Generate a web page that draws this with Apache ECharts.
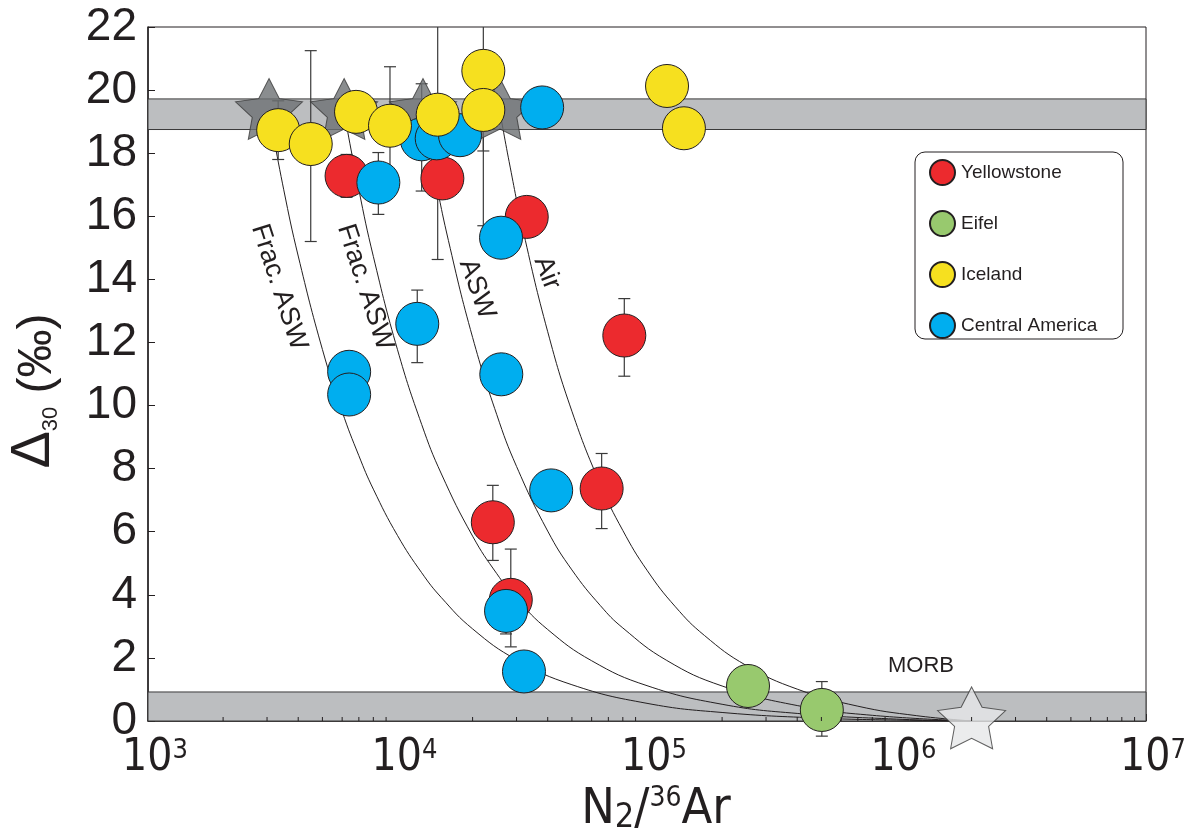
<!DOCTYPE html>
<html>
<head>
<meta charset="utf-8">
<script src="https://cdn.jsdelivr.net/npm/echarts@6/dist/echarts.min.js"></script>
<style>
html,body{margin:0;padding:0;background:#fff;}
#chart{width:1186px;height:840px;}
</style>
</head>
<body>
<div id="chart"></div>
<script>
// ---------- data ----------
const seriesNames = ['Yellowstone', 'Eifel', 'Iceland', 'Central America'];

const yellowstone = [[6250,17.28],[15130,17.2],[32960,15.98],[81100,12.22],[65800,7.37],[24100,6.30],[28450,3.84]];
const yellowstoneErr = [[6250,16.6,17.96],[81100,10.93,13.39],[65800,6.10,8.48],[24100,5.09,7.47],[28450,2.35,5.45]];

const eifel = [[254000,1.11],[502000,0.35]];
const eifelErr = [[502000,-0.48,1.25]];

const iceland = [[3325,18.73],[4490,18.29],[6820,19.31],[9330,18.87],[14490,19.22],[22080,20.61],[22080,19.37],[120300,20.13],[140600,18.79]];
const icelandErr = [[3325,17.8,19.66],[4490,15.2,21.25],[9330,17.0,20.74],[14490,14.63,23.8],[22080,15.7,25.5],[22080,18.07,20.67]];

const centralAmerica = [[8380,17.07],[12500,18.44],[14360,18.47],[17800,18.57],[38000,19.45],[26000,15.32],[12000,12.59],[6400,11.07],[6400,10.35],[26060,10.99],[41300,7.31],[27230,3.49],[32130,1.57]];
const centralAmericaErr = [[8380,16.06,18.02],[12500,16.8,20.2],[12000,11.36,13.66],[27230,2.76,4.22]];

const endMemberStars = [[3055,19.4],[6110,19.4],[12650,19.4],[25760,19.4]];
const morbStar = [[2000000,0.1]];

const curveFracASW1 = [[3055,19.3],[3500,16.84],[4000,14.74],[5000,11.78],[6000,9.81],[7000,8.41],[8000,7.35],[10000,5.88],[12500,4.70],[15000,3.91],[20000,2.92],[30000,1.94],[50000,1.15],[100000,0.56],[200000,0.27],[500000,0.09],[1000000,0.03],[2000000,0]];
const curveFracASW2 = [[6110,19.3],[7000,16.84],[8000,14.73],[10000,11.77],[12500,9.40],[15000,7.83],[20000,5.86],[25000,4.67],[30000,3.88],[40000,2.90],[60000,1.91],[100000,1.12],[200000,0.53],[400000,0.24],[1000000,0.06],[2000000,0]];
const curveASW = [[12650,19.3],[14000,17.43],[16000,15.23],[20000,12.16],[25000,9.71],[30000,8.07],[40000,6.02],[50000,4.79],[65000,3.66],[80000,2.95],[120000,1.92],[200000,1.11],[400000,0.49],[800000,0.18],[2000000,0]];
const curveAir = [[25760,19.3],[28000,17.74],[32000,15.49],[40000,12.34],[50000,9.82],[65000,7.50],[80000,6.04],[100000,4.78],[130000,3.62],[170000,2.71],[250000,1.76],[400000,1.01],[700000,0.47],[1200000,0.17],[2000000,0]];

const upperBand = [18.75, 19.72];
const lowerBand = [0, 0.92];

const xTickExponents = ['3','4','5','6','7'];
const yTickLabels = ['0','2','4','6','8','10','12','14','16','18','20','22'];
const xMinorTicks = [2000,3000,4000,5000,6000,7000,8000,9000,
  20000,30000,40000,50000,60000,70000,80000,90000,
  200000,300000,400000,500000,600000,700000,800000,900000,
  2000000,3000000,4000000,5000000,6000000,7000000,8000000,9000000];

const curveLabels = ['Frac. ASW', 'Frac. ASW', 'ASW', 'Air'];
const morbLabel = 'MORB';

// ---------- styling ----------
const INK = '#231f20';
const FONT = "'Liberation Sans', Arial, sans-serif";
const NARROW = "'Liberation Sans Narrow', 'DejaVu Sans Condensed', sans-serif";
const COLORS = { red:'#ec2a2e', green:'#98c96e', yellow:'#f6e01f', blue:'#00aeef' };
const STAR = 'path://M50 0 L64.69 29.77 L97.55 34.55 L73.78 57.73 L79.39 90.45 L50 75 L20.61 90.45 L26.22 57.73 L2.45 34.55 L35.31 29.77 Z';

function errRender(params, api) {
  const x = api.value(0), lo = api.value(1), hi = api.value(2);
  const top = params.coordSys.y;
  const p0 = api.coord([x, lo]);
  const p1 = api.coord([x, hi]);
  let capTop = true;
  if (p1[1] < top) { p1[1] = top; capTop = false; }
  const w = 6;
  const st = { stroke: '#3a3a3a', lineWidth: 1.2 };
  const ch = [
    { type:'line', shape:{x1:p0[0], y1:p0[1], x2:p1[0], y2:p1[1]}, style: st },
    { type:'line', shape:{x1:p0[0]-w, y1:p0[1], x2:p0[0]+w, y2:p0[1]}, style: st }
  ];
  if (capTop) ch.push({ type:'line', shape:{x1:p1[0]-w, y1:p1[1], x2:p1[0]+w, y2:p1[1]}, style: st });
  return { type:'group', children: ch };
}

function minorTickRender(params, api) {
  const p = api.coord([api.value(0), 0]);
  return { type:'line', shape:{x1:p[0], y1:p[1], x2:p[0], y2:p[1]-4}, style:{stroke: INK, lineWidth: 1} };
}

function curveSeries(data) {
  return { type:'line', data: data, showSymbol:false, symbol:'none', smooth:0.45,
    lineStyle:{color: INK, width:1}, z:3, silent:true, animation:false };
}
function errSeries(data) {
  return { type:'custom', data: data, renderItem: errRender, encode:{x:0, y:1}, z:4, silent:true, animation:false };
}
function dotSeries(name, data, color, z) {
  return { name: name, type:'scatter', data: data, symbol:'circle', symbolSize:43,
    itemStyle:{color: color, borderColor: INK, borderWidth:1, opacity:1}, z: z, animation:false };
}

const chart = echarts.init(document.getElementById('chart'), null, {renderer:'canvas'});

const option = {
  animation: false,
  backgroundColor: '#ffffff',
  grid: { left:148, right:40, top:27, bottom:119, show:true, borderColor: INK, borderWidth:1, outerBoundsMode:'none' },
  xAxis: {
    type:'log', logBase:10, min:1000, max:10000000, splitNumber:4,
    axisLine:{ show:true, lineStyle:{color: INK, width:1.5} },
    axisTick:{ show:true, inside:true, length:7, lineStyle:{color: INK, width:1} },
    minorTick:{ show:false },
    splitLine:{ show:false },
    axisLabel:{
      margin: 16,
      formatter: function (v) {
        const e = Math.round(Math.log10(v)) - 3;
        return '{p|}{b|10}{s|' + xTickExponents[e] + '}';
      },
      rich: {
        p:{ width:14 },
        b:{ fontSize:44, fontFamily: NARROW, lineHeight:44, color: INK },
        s:{ fontSize:27, fontFamily: NARROW, lineHeight:29, color: INK, verticalAlign:'top' }
      }
    }
  },
  yAxis: {
    type:'value', min:0, max:22, interval:2,
    axisLine:{ show:true, lineStyle:{color: INK, width:1.5} },
    axisTick:{ show:true, inside:true, length:7, lineStyle:{color: INK, width:1} },
    splitLine:{ show:false },
    axisLabel:{
      margin: 11, fontSize:46, fontFamily: FONT, color: INK, padding:[6,0,0,0],
      formatter: function (v) { return yTickLabels[Math.round(v / 2)]; }
    }
  },
  legend: {
    data: ['Yellowstone', 'Eifel', 'Iceland', 'Central America'],
    orient:'vertical', left:929, top:159, padding:0, itemGap:24,
    itemWidth:25, itemHeight:25, icon:'circle', z:10,
    textStyle:{ fontSize:19, fontFamily: FONT, color: INK, padding:[0,0,0,1] },
    selectedMode:false
  },
  graphic: [
    { type:'rect', z:5, shape:{x:915, y:152, width:208, height:187, r:10},
      style:{ fill:'#ffffff', stroke: INK, lineWidth:1 } },
    { type:'text', z:20, x:34, y:391, rotation: Math.PI/2,
      style:{ text:'{d|Δ}{s|30}{t| (‰)}', align:'center', verticalAlign:'middle', fill: INK,
        rich:{
          d:{ fontSize:56, fontFamily: FONT, lineHeight:56, verticalAlign:'bottom', fill: INK },
          s:{ fontSize:22, fontFamily: FONT, lineHeight:32, verticalAlign:'bottom', fill: INK },
          t:{ fontSize:48, fontFamily: FONT, lineHeight:50, verticalAlign:'bottom', fill: INK }
        } } },
    { type:'text', z:20, x:656, y:810,
      style:{ text:'{b|N}{sub|2}{b|/}{sup|36}{b|Ar}', align:'center', verticalAlign:'middle', fill: INK,
        rich:{
          b:{ fontSize:50, fontFamily: NARROW, lineHeight:50, verticalAlign:'bottom', fill: INK },
          sub:{ fontSize:34, fontFamily: NARROW, lineHeight:38, verticalAlign:'bottom', fill: INK },
          sup:{ fontSize:28, fontFamily: NARROW, lineHeight:28, verticalAlign:'top', fill: INK }
        } } },
    { type:'text', z:20, x:279, y:287, rotation: -72*Math.PI/180,
      style:{ text: curveLabels[0], fontSize:27, fontFamily: FONT, fill: INK, align:'center', verticalAlign:'middle' } },
    { type:'text', z:20, x:365, y:287, rotation: -72*Math.PI/180,
      style:{ text: curveLabels[1], fontSize:27, fontFamily: FONT, fill: INK, align:'center', verticalAlign:'middle' } },
    { type:'text', z:20, x:477, y:289, rotation: -70*Math.PI/180,
      style:{ text: curveLabels[2], fontSize:27, fontFamily: FONT, fill: INK, align:'center', verticalAlign:'middle' } },
    { type:'text', z:20, x:547, y:273, rotation: -69*Math.PI/180,
      style:{ text: curveLabels[3], fontSize:27, fontFamily: FONT, fill: INK, align:'center', verticalAlign:'middle' } },
    { type:'text', z:20, x:921, y:666,
      style:{ text: morbLabel, fontSize:22, fontFamily: FONT, fill: INK, align:'center', verticalAlign:'middle' } }
  ],
  series: [
    { type:'scatter', data:[], z:1, silent:true,
      markArea:{ silent:true,
        itemStyle:{ color:'#bcbec0', borderColor:'#3a3a3a', borderWidth:1 },
        data:[
          [{ yAxis: upperBand[0] }, { yAxis: upperBand[1] }],
          [{ yAxis: lowerBand[0] }, { yAxis: lowerBand[1] }]
        ] } },
    curveSeries(curveFracASW1),
    curveSeries(curveFracASW2),
    curveSeries(curveASW),
    curveSeries(curveAir),
    errSeries(yellowstoneErr),
    errSeries(eifelErr),
    errSeries(icelandErr),
    errSeries(centralAmericaErr),
    { type:'scatter', data: endMemberStars, symbol: STAR, symbolKeepAspect:true, symbolSize:[67,64],
      itemStyle:{ color:'#6d7073', borderColor:'#3a3a3a', borderWidth:1 }, z:5, silent:true },
    { type:'scatter', data: morbStar, symbol: STAR, symbolKeepAspect:true, symbolSize:[68,65],
      itemStyle:{ color:'#e6e7e9', borderColor:'#3a3a3a', borderWidth:1 }, z:5, silent:true },
    dotSeries(seriesNames[0], yellowstone, COLORS.red, 6),
    dotSeries(seriesNames[1], eifel, COLORS.green, 6),
    dotSeries(seriesNames[3], centralAmerica, COLORS.blue, 7),
    dotSeries(seriesNames[2], iceland, COLORS.yellow, 8),
    { type:'custom', data: xMinorTicks.map(v => [v, 0]), renderItem: minorTickRender, encode:{x:0, y:1}, z:12, silent:true }
  ]
};
chart.setOption(option);
</script>
</body>
</html>
